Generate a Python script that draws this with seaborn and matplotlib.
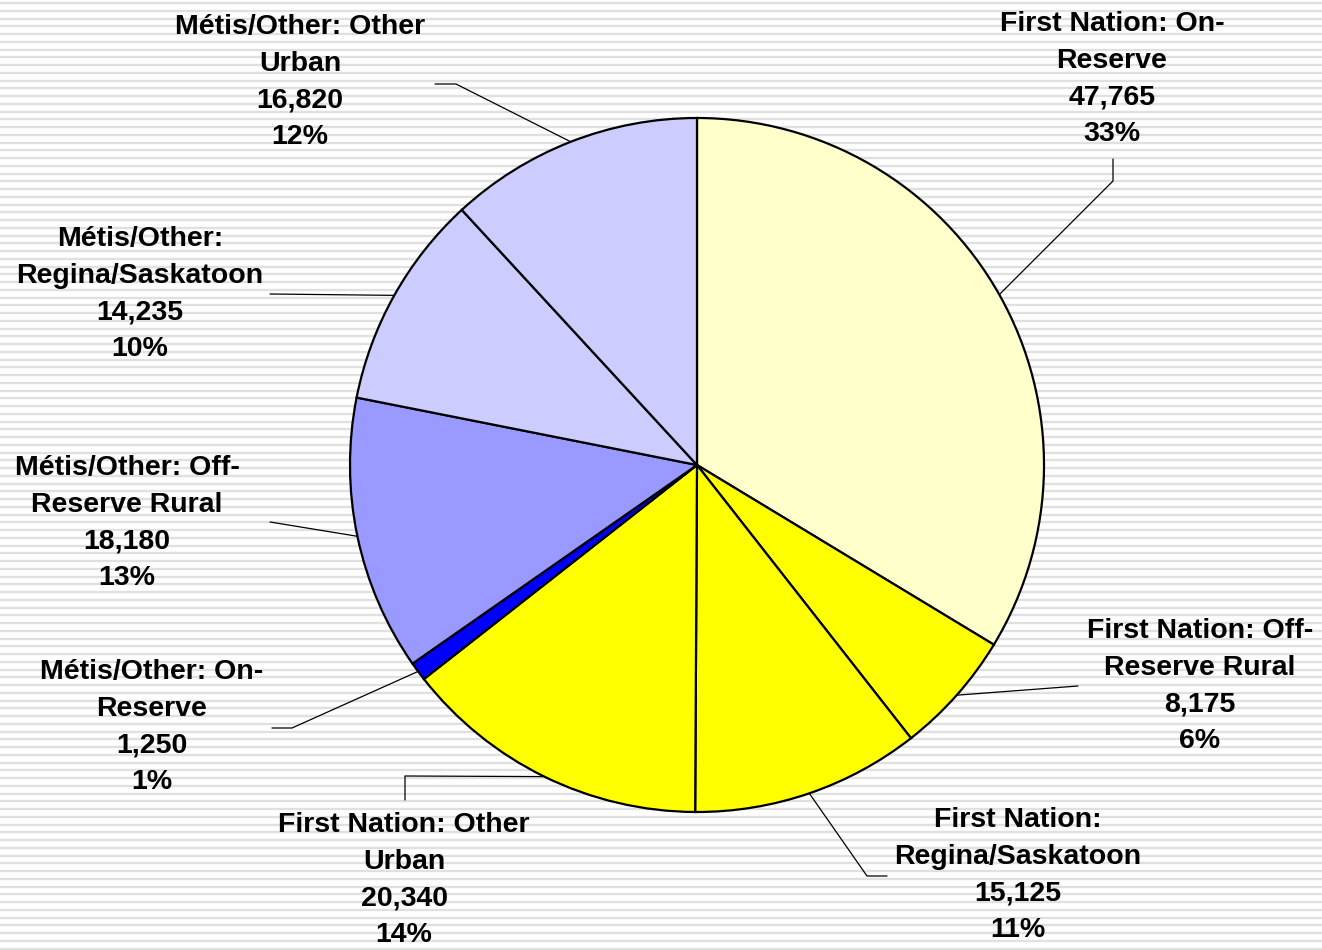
import numpy as np
import matplotlib
matplotlib.use("Agg")
import matplotlib.pyplot as plt
import seaborn as sns

# data
categories = ["First Nation: On-\nReserve",
              "First Nation: Off-\nReserve Rural",
              "First Nation:\nRegina/Saskatoon",
              "First Nation: Other\nUrban",
              "Métis/Other: On-\nReserve",
              "Métis/Other: Off-\nReserve Rural",
              "Métis/Other:\nRegina/Saskatoon",
              "Métis/Other: Other\nUrban"]
values = [47765, 8175, 15125, 20340, 1250, 18180, 14235, 16820]
pct_labels = ["33%", "6%", "11%", "14%", "1%", "13%", "10%", "12%"]
colors = ["#FFFFCC", "#FFFF00", "#FFFF00", "#FFFF00",
          "#0000FF", "#9999FF", "#CCCCFF", "#CCCCFF"]

sns.set_theme(style="white")
plt.rcParams['font.family'] = ['Liberation Sans', 'DejaVu Sans']

W, H = 1322, 950
fig = plt.figure(figsize=(13.22, 9.5), dpi=100)
ax = fig.add_axes([0, 0, 1, 1])
ax.set_xlim(0, W)
ax.set_ylim(0, H)
ax.axis("off")

# striped background
ax.hlines(H - np.arange(3, H, 7.75), 0, W, color="#e0e0e0", lw=1.7, zorder=0)

cx, cy, r = 697, H - 465, 347
wedges, _ = ax.pie(values, colors=colors, startangle=90, counterclock=False,
                   center=(cx, cy), radius=r,
                   wedgeprops=dict(edgecolor="black", linewidth=1.6))
for w in wedges:
    w.set_zorder(2)
ax.set_xlim(0, W)
ax.set_ylim(0, H)
ax.set_aspect("equal")

# label text centres and leader bends (pixel coords, y from top)
text_pos = [(1112, 79), (1200, 686), (1018, 875), (404, 880),
            (152, 727), (127, 523), (140, 294), (300, 82)]
leaders = [[(1113, 181), (1113, 159)],
           [(1078, 686)],
           [(867, 876), (887, 876)],
           [(405, 776), (405, 800)],
           [(292, 728), (272, 728)],
           [(270, 522)],
           [(270, 294)],
           [(456, 84), (435, 84)]]

for w, cat, v, p, tp, pts in zip(wedges, categories, values, pct_labels, text_pos, leaders):
    mid = np.deg2rad((w.theta1 + w.theta2) / 2)
    ex, ey = cx + r * np.cos(mid), cy + r * np.sin(mid)
    xs = [ex] + [q[0] for q in pts]
    ys = [ey] + [H - q[1] for q in pts]
    ax.plot(xs, ys, color="black", lw=0.9, zorder=1)
    ax.text(tp[0], H - tp[1], f"{cat}\n{v:,}\n{p}", ha="center", va="center",
            fontsize=20.5, fontweight="bold", linespacing=1.52, color="black",
            zorder=3)

fig.savefig("out.png", dpi=100)
